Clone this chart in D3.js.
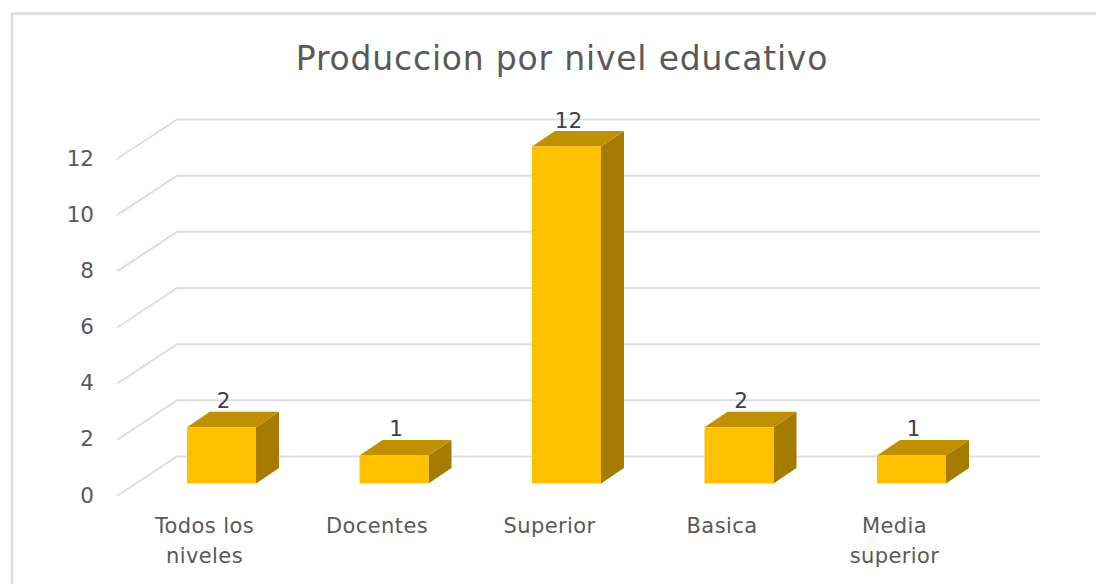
<!DOCTYPE html>
<html><head><meta charset="utf-8">
<script src="https://cdn.jsdelivr.net/npm/d3@7/dist/d3.min.js"></script>
<style>html,body{margin:0;padding:0;background:#fff;overflow:hidden}svg{display:block}text{font-family:"DejaVu Sans",sans-serif}</style>
</head><body><svg id="c" width="1096" height="584"></svg>
<script>
const categories=[["Todos los","niveles"],["Docentes"],["Superior"],["Basica"],["Media","superior"]];
const values=[2,1,12,2,1];
const yTicks=[0,2,4,6,8,10,12];
const titleText="Produccion por nivel educativo";

const svg=d3.select("#c");
// frame
svg.append("path").attr("d","M12 584V13.5H1096").attr("fill","none").attr("stroke","#dcdcdc").attr("stroke-width",2.5);
svg.append("text").attr("x",562).attr("y",70).attr("text-anchor","middle").attr("font-size",33).attr("letter-spacing",0.8).attr("fill","#595959").text(titleText);

// y scale measured on the front plane of the bars
const y=d3.scaleLinear().domain([0,12]).range([483.5,146.5]);
const depth={x:23,y:-15.5};
const wallY=-27; // front plane to back wall
const x=d3.scaleBand().domain(d3.range(categories.length)).range([135.25,997.75]);
const barW=69;
const gridLeft=177, gridRight=1040;

const grid=svg.append("g").attr("fill","none").attr("stroke","#dedede").attr("stroke-width",2);
yTicks.forEach(t=>{
  const back=y(t)+wallY;
  grid.append("path").attr("d",`M${gridLeft-60} ${back+39.5}L${gridLeft} ${back}H${gridRight}`);
});

const ylab=svg.append("g").attr("fill","#595959").attr("font-size",21.5).attr("text-anchor","end");
yTicks.forEach(t=>{
  ylab.append("text").attr("x",94).attr("y",y(t)+19).text(t);
});

const bars=svg.append("g").selectAll("g").data(values).join("g");
const cx=i=>x(i)+x.bandwidth()/2;
bars.each(function(v,i){
  const g=d3.select(this), l=cx(i)-barW/2, r=l+barW, t=y(v), b=y(0);
  g.append("path").attr("fill","#a67c00").attr("d",`M${r} ${t}L${r+depth.x} ${t+depth.y}V${b+depth.y}L${r} ${b}Z`);
  g.append("path").attr("fill","#c09000").attr("d",`M${l} ${t}L${l+depth.x} ${t+depth.y}H${r+depth.x}L${r} ${t}Z`);
  g.append("rect").attr("x",l).attr("y",t).attr("width",barW).attr("height",b-t).attr("fill","#ffc000");
  g.append("text").attr("x",cx(i)+2).attr("y",t-19).attr("text-anchor","middle").attr("font-size",21.5).attr("fill","#404040").text(v);
});

const xlab=svg.append("g").attr("fill","#595959").attr("font-size",21).attr("letter-spacing",0.4).attr("text-anchor","middle");
categories.forEach((lines,i)=>{
  lines.forEach((s,j)=>{
    xlab.append("text").attr("x",cx(i)-17).attr("y",533+j*30).text(s);
  });
});
</script></body></html>
